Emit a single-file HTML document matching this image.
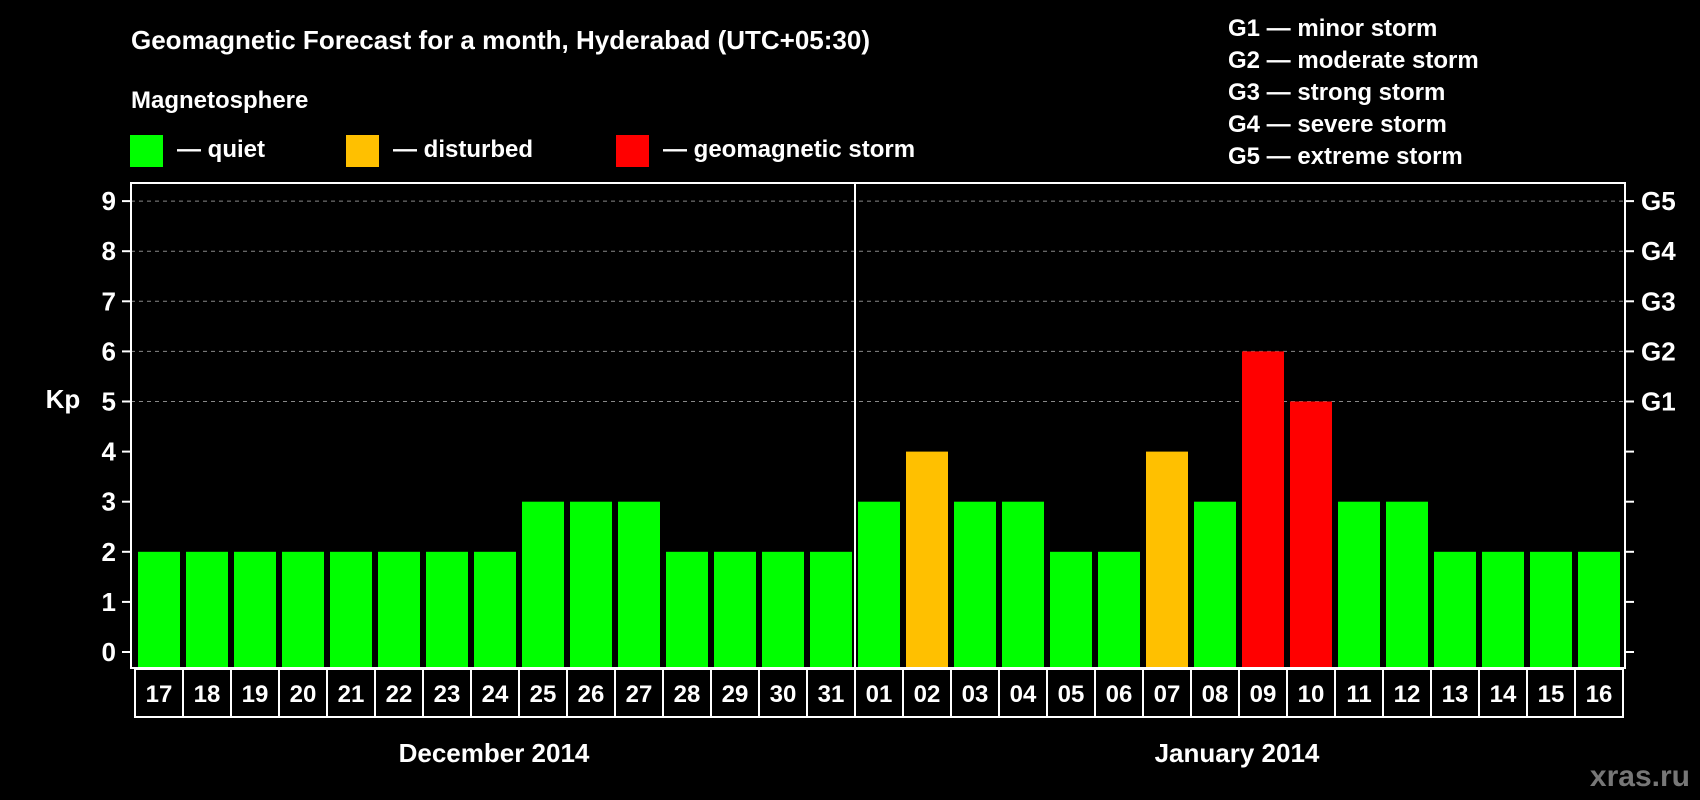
<!DOCTYPE html>
<html><head><meta charset="utf-8"><style>
html,body{margin:0;padding:0;background:#000;}
svg{display:block;font-family:"Liberation Sans",Arial,sans-serif;font-weight:bold;}
</style></head><body>
<svg id="chart" width="1700" height="800" viewBox="0 0 1700 800">
<rect width="1700" height="800" fill="#000"/>
<text x="131" y="49" fill="#fff" font-size="26">Geomagnetic Forecast for a month, Hyderabad (UTC+05:30)</text>
<text x="131" y="108" fill="#fff" font-size="24">Magnetosphere</text>
<g><rect x="130" y="135" width="33" height="32" fill="#00ff00"/><text x="177" y="157" fill="#fff" font-size="24">— quiet</text></g>
<g><rect x="346" y="135" width="33" height="32" fill="#ffc000"/><text x="393" y="157" fill="#fff" font-size="24">— disturbed</text></g>
<g><rect x="616" y="135" width="33" height="32" fill="#ff0000"/><text x="663" y="157" fill="#fff" font-size="24">— geomagnetic storm</text></g>
<g fill="#fff" font-size="24">
<text x="1228" y="36">G1 — minor storm</text>
<text x="1228" y="68">G2 — moderate storm</text>
<text x="1228" y="100">G3 — strong storm</text>
<text x="1228" y="132">G4 — severe storm</text>
<text x="1228" y="164">G5 — extreme storm</text>
</g>
<text x="63" y="408" fill="#fff" font-size="26" text-anchor="middle">Kp</text>
<g id="grid"></g><g id="bars"></g><g id="axes"></g>
<text x="494" y="762" fill="#fff" font-size="26" text-anchor="middle">December 2014</text>
<text x="1237" y="762" fill="#fff" font-size="26" text-anchor="middle">January 2014</text>
<text x="1690" y="786" fill="#777" font-size="30" text-anchor="end">xras.ru</text>
</svg>
<script>
const days=["17","18","19","20","21","22","23","24","25","26","27","28","29","30","31","01","02","03","04","05","06","07","08","09","10","11","12","13","14","15","16"];
const kp=[2,2,2,2,2,2,2,2,3,3,3,2,2,2,2,3,4,3,3,2,2,4,3,6,5,3,3,2,2,2,2];
const yTicks=[0,1,2,3,4,5,6,7,8,9];
const gLabels=["G1","G2","G3","G4","G5"];
const NS="http://www.w3.org/2000/svg";
const L=131,R=1625,T=183,B=668,x0=138,pitch=48,bw=42;
const y=v=>652-v*50.1;
const x=i=>x0+i*pitch;
function mk(tag,at,parent){const e=document.createElementNS(NS,tag);for(const k in at)e.setAttribute(k,at[k]);parent.appendChild(e);return e;}
const grid=document.getElementById('grid'),bars=document.getElementById('bars'),axes=document.getElementById('axes');
for(let v=5;v<=9;v++){
 const ln=mk('line',{x1:L,x2:R,y1:y(v),y2:y(v),stroke:'#888','stroke-width':1,'stroke-dasharray':'4,4'},grid);
 
 
}
kp.forEach((v,i)=>{
 const c=v>=5?'#ff0000':(v>=4?'#ffc000':'#00ff00');
 const r=mk('rect',{x:x(i),y:y(v),width:bw,height:B-y(v),fill:c},bars);
 
 
});
const fr=mk('rect',{x:L,y:T,width:R-L,height:B-T,fill:'none',stroke:'#fff','stroke-width':2},axes);


const sep=mk('line',{x1:x(15)-3,x2:x(15)-3,y1:T,y2:B,stroke:'#fff','stroke-width':2},axes);


yTicks.forEach(v=>{
 mk('line',{x1:L-9,x2:L,y1:y(v),y2:y(v),stroke:'#fff','stroke-width':2},axes);
 mk('line',{x1:R,x2:R+9,y1:y(v),y2:y(v),stroke:'#fff','stroke-width':2},axes);
 const t=mk('text',{x:116,y:y(v)+9,fill:'#fff','font-size':26,'text-anchor':'end'},axes);
 t.textContent=v;
 
 
});
gLabels.forEach((g,i)=>{
 const t=mk('text',{x:1641,y:y(5+i)+9,fill:'#fff','font-size':26},axes);
 t.textContent=g;
 
 
});
const bx=mk('rect',{x:135,y:669,width:x(31)-3-135,height:48,fill:'none',stroke:'#fff','stroke-width':2},axes);


days.forEach((d,i)=>{
 if(i>0)mk('line',{x1:x(i)-3,x2:x(i)-3,y1:669,y2:717,stroke:'#fff','stroke-width':2},axes);
 const t=mk('text',{x:x(i)+bw/2,y:702,fill:'#fff','font-size':24,'text-anchor':'middle'},axes);
 t.textContent=d;
 
 
});
</script>
</body></html>
